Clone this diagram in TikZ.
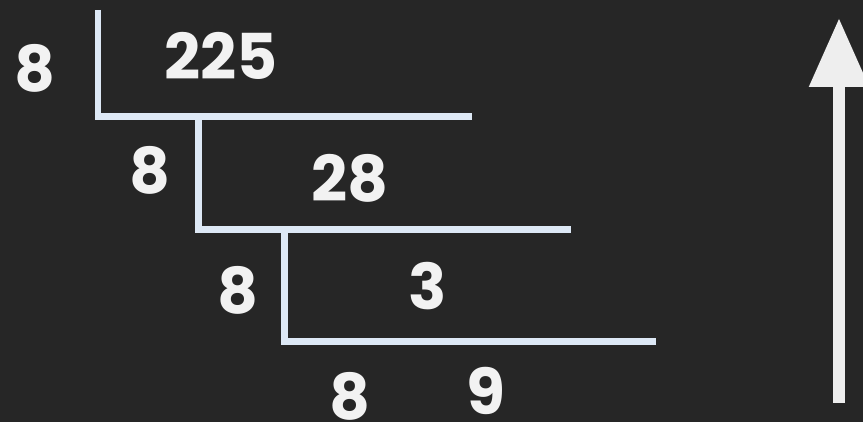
\documentclass[tikz,border=0pt]{standalone}
\usepackage{fontspec}
\setmainfont{Poppins}
\usetikzlibrary{arrows.meta}
\definecolor{bg}{HTML}{262626}
\definecolor{digit}{HTML}{F2F2F2}
\definecolor{bar}{HTML}{DDE8F5}
\definecolor{arrowcol}{HTML}{EEEEEE}
\tikzset{
  num/.style={text=digit,font=\fontsize{36}{40}\selectfont\bfseries,inner sep=0pt},
  divline/.style={bar,line width=0.14cm},
}
\begin{document}
\begin{tikzpicture}[x=0.02cm,y=-0.02cm]
  \fill[bg] (0,0) rectangle (863,422);
  \useasboundingbox (0,0) rectangle (863,422);
  % division steps
  \coordinate (T1) at (98,10);
  \coordinate (C1) at (98,117);
  \coordinate (E1) at (472,117);
  \coordinate (T2) at (198,117);
  \coordinate (C2) at (198,230);
  \coordinate (E2) at (571,230);
  \coordinate (T3) at (284,230);
  \coordinate (C3) at (284,342);
  \coordinate (E3) at (656,342);
  \draw[divline] (T1)--(C1)--(E1);
  \draw[divline] (T2)--(C2)--(E2);
  \draw[divline] (T3)--(C3)--(E3);
  \node[num] (d1) at (35,68) {8};
  \node[num] (n1) at (221,56) {225};
  \node[num] (d2) at (150,170) {8};
  \node[num] (n2) at (350,178) {28};
  \node[num] (d3) at (238,290) {8};
  \node[num] (n3) at (428,286) {3};
  \node[num] (q4) at (350,396) {8};
  \node[num] (r4) at (486,391) {9};
  % read upwards
  \coordinate (A0) at (839,403);
  \coordinate (A1) at (839,18);
  \draw[arrowcol,line width=0.24cm,-{Triangle[width=1.14cm,length=1.38cm]}] (A0)--(A1);
\end{tikzpicture}
\end{document}
